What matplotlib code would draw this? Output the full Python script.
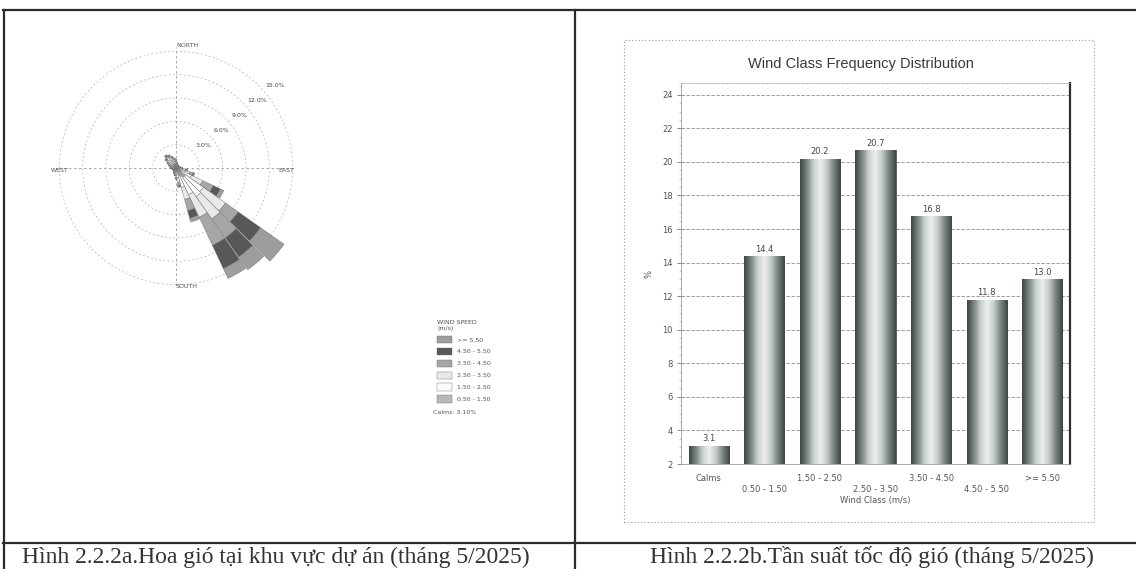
import numpy as np
import matplotlib
matplotlib.use("Agg")
import matplotlib.pyplot as plt
from matplotlib.patches import Rectangle
from matplotlib.lines import Line2D
from matplotlib.colors import LinearSegmentedColormap

# ---------------- data ----------------
# Wind class frequency distribution (%)
wind_classes = ["Calms", "0.50 - 1.50", "1.50 - 2.50", "2.50 - 3.50",
                "3.50 - 4.50", "4.50 - 5.50", ">= 5.50"]
class_freq = [3.1, 14.4, 20.2, 20.7, 16.8, 11.8, 13.0]
y_ticks = [2, 4, 6, 8, 10, 12, 14, 16, 18, 20, 22, 24]

# Wind rose: direction (deg, blowing from) and frequency (%) per speed class
rose_dirs = [0, 10, 20, 30, 40, 50, 60, 70, 80, 90, 100, 110, 120, 130, 140, 150, 160, 170,
             180, 190, 200, 210, 220, 230, 240, 250, 260, 270, 280, 290, 300, 310, 320, 330, 340, 350]
rose_c1 = [0.30, 0.25, 0.20, 0.18, 0.18, 0.17, 0.18, 0.20, 0.25, 0.30, 0.40, 0.55, 0.80, 1.50, 1.50, 1.20, 1.00, 0.60,
           0.45, 0.35, 0.30, 0.25, 0.22, 0.20, 0.20, 0.22, 0.25, 0.28, 0.30, 0.35, 0.42, 0.50, 0.55, 0.50, 0.45, 0.38]
rose_c2 = [0.35, 0.25, 0.20, 0.15, 0.14, 0.12, 0.13, 0.15, 0.20, 0.28, 0.45, 0.70, 1.40, 2.80, 3.00, 2.60, 1.60, 0.70,
           0.45, 0.30, 0.25, 0.20, 0.18, 0.15, 0.15, 0.16, 0.18, 0.22, 0.25, 0.32, 0.40, 0.55, 0.65, 0.60, 0.50, 0.42]
rose_c3 = [0.25, 0.15, 0.12, 0.10, 0.08, 0.07, 0.07, 0.08, 0.12, 0.18, 0.35, 0.60, 1.60, 3.50, 3.50, 3.20, 1.60, 0.60,
           0.30, 0.20, 0.15, 0.10, 0.10, 0.08, 0.08, 0.09, 0.10, 0.12, 0.15, 0.20, 0.28, 0.40, 0.50, 0.45, 0.35, 0.30]
rose_c4 = [0.10, 0.08, 0.05, 0.05, 0.04, 0.03, 0.03, 0.04, 0.05, 0.08, 0.20, 0.40, 1.50, 2.00, 3.00, 4.00, 1.50, 0.35,
           0.15, 0.08, 0.05, 0.04, 0.03, 0.03, 0.03, 0.03, 0.04, 0.05, 0.06, 0.08, 0.12, 0.20, 0.25, 0.22, 0.15, 0.12]
rose_c5 = [0.05, 0.03, 0.02, 0.02, 0.01, 0.01, 0.01, 0.01, 0.02, 0.03, 0.08, 0.15, 1.00, 3.50, 3.00, 3.30, 1.00, 0.15,
           0.05, 0.03, 0.02, 0.01, 0.01, 0.01, 0.00, 0.01, 0.01, 0.02, 0.02, 0.03, 0.05, 0.08, 0.10, 0.08, 0.06, 0.05]
rose_c6 = [0.03, 0.02, 0.01, 0.00, 0.00, 0.00, 0.00, 0.00, 0.01, 0.01, 0.05, 0.10, 0.50, 3.70, 2.00, 1.40, 0.50, 0.10,
           0.02, 0.01, 0.00, 0.00, 0.00, 0.00, 0.00, 0.00, 0.00, 0.01, 0.01, 0.01, 0.02, 0.04, 0.05, 0.04, 0.03, 0.02]
rose_labels = ["0.50 - 1.50", "1.50 - 2.50", "2.50 - 3.50", "3.50 - 4.50", "4.50 - 5.50", ">= 5.50"]
rose_colors = ["#b9b9b9", "#fbfbfb", "#e9e9e9", "#a6a6a6", "#585858", "#9d9d9d"]
ring_values = [3, 6, 9, 12, 15]
ring_labels = ["3.0%", "6.0%", "9.0%", "12.0%", "15.0%"]
calms_text = "Calms: 3.10%"

caption_a = "Hình 2.2.2a.Hoa gió tại khu vực dự án (tháng 5/2025)"
caption_b = "Hình 2.2.2b.Tần suất tốc độ gió (tháng 5/2025)"

# ---------------- figure ----------------
W, H = 1136, 569
fig = plt.figure(figsize=(W / 100, H / 100), dpi=100)
fig.patch.set_facecolor("white")


def fx(px):
    return px / W


def fy(py):
    return 1 - py / H


txt = "#555555"

# ---- table frame ----
frame_kw = dict(transform=fig.transFigure, color="#2b2b2b", lw=1.6)
fig.add_artist(Line2D([fx(3), fx(1136)], [fy(10), fy(10)], **frame_kw))
fig.add_artist(Line2D([fx(4), fx(4)], [fy(10), fy(569)], **frame_kw))
fig.add_artist(Line2D([fx(575), fx(575)], [fy(10), fy(569)], **frame_kw))
fig.add_artist(Line2D([fx(3), fx(1136)], [fy(543), fy(543)], **frame_kw))

fig.text(fx(276), fy(557), caption_a, ha="center", va="center",
         family="Liberation Serif", fontsize=17, color="#333333")
fig.text(fx(872), fy(557), caption_b, ha="center", va="center",
         family="Liberation Serif", fontsize=17, color="#333333")

# ---- wind rose ----
axr = fig.add_axes([fx(36), fy(308), 280 / W, 280 / H], projection="polar")
axr.set_theta_zero_location("N")
axr.set_theta_direction(-1)
axr.set_ylim(0, 18)
axr.set_facecolor("none")
axr.spines["polar"].set_visible(False)
axr.set_xticks([])
axr.set_yticks(ring_values)
axr.set_yticklabels([])
axr.yaxis.grid(True, color="#b5b5b5", lw=0.6, ls=(0, (2, 3)))
axr.xaxis.grid(False)

theta = np.deg2rad(rose_dirs)
width = np.deg2rad(9.6)
series = [rose_c1, rose_c2, rose_c3, rose_c4, rose_c5, rose_c6]
bottom = np.zeros(len(rose_dirs))
handles = []
for vals, col, lab in zip(series, rose_colors, rose_labels):
    b = axr.bar(theta, vals, width=width, bottom=bottom, color=col,
                edgecolor="#707070", linewidth=0.3, label=lab, zorder=3)
    handles.append(b)
    bottom = bottom + np.array(vals)

# crosshair
cross_kw = dict(color="#9a9a9a", lw=0.6, ls=(0, (3, 3)), zorder=1)
axr.plot([0, 0], [0, 15.6], **cross_kw)
axr.plot([np.pi, np.pi], [0, 15.4], **cross_kw)
axr.plot([np.pi / 2, np.pi / 2], [0, 15.4], **cross_kw)
axr.plot([3 * np.pi / 2, 3 * np.pi / 2], [0, 15.4], **cross_kw)

for rv, rl in zip(ring_values, ring_labels):
    axr.text(np.deg2rad(50), rv + 1.6, rl, fontsize=4.5, color="#444444",
             ha="center", va="center", zorder=5)

axr.text(0, 15.8, "NORTH", fontsize=4.5, color=txt, ha="left", va="center")
axr.text(np.pi, 15.3, "SOUTH", fontsize=4.5, color=txt, ha="left", va="center")
axr.text(3 * np.pi / 2, 15.0, "WEST", fontsize=4.5, color=txt, ha="center", va="top")
axr.text(np.pi / 2, 14.2, "EAST", fontsize=4.5, color=txt, ha="center", va="top")

leg = fig.legend(handles=handles[::-1], labels=rose_labels[::-1],
                 loc="upper left", bbox_to_anchor=(fx(433), fy(316)),
                 frameon=False, fontsize=4.5, title="WIND SPEED\n(m/s)",
                 title_fontsize=4.5, handlelength=2.3, handleheight=1.4,
                 labelspacing=0.75, borderpad=0.2, handletextpad=0.8,
                 alignment="left")
for t in leg.get_texts():
    t.set_color(txt)
leg.get_title().set_color(txt)
fig.text(fx(433), fy(412), calms_text, fontsize=4.5, color=txt, ha="left", va="center")

# ---- bar chart ----
fig.add_artist(Rectangle((fx(624), fy(522)), (1094 - 624) / W, (522 - 40) / H,
                         transform=fig.transFigure, fill=False, ls=(0, (1, 2)),
                         ec="#9a9a9a", lw=0.8))

axb = fig.add_axes([fx(681), fy(464), 389 / W, 381 / H])
y_low, y_high = 2, 24.7
x = np.arange(len(wind_classes))
bars = axb.bar(x, class_freq, width=0.72, color="#9aa39d", edgecolor="#4a4f4b",
               linewidth=0.6, zorder=3)

cmap = LinearSegmentedColormap.from_list(
    "cyl", ["#3f4641", "#7d8680", "#c9d0cb", "#eef1ee", "#c2c9c4", "#7a837d", "#3f4641"])
grad = np.linspace(0, 1, 64).reshape(1, -1)
for b in bars:
    x0, y0 = b.get_x(), max(b.get_y(), y_low)
    w, top = b.get_width(), b.get_y() + b.get_height()
    im = axb.imshow(grad, cmap=cmap, aspect="auto", extent=(x0, x0 + w, y0, top),
                    zorder=3.5, interpolation="bicubic")
    im.set_clip_path(b)

axb.bar_label(bars, labels=[f"{v:.1f}" for v in class_freq], padding=1.5,
              fontsize=6, color="#444444", zorder=5)

axb.set_xlim(-0.5, len(wind_classes) - 0.5)
axb.set_ylim(y_low, y_high)
axb.set_yticks(y_ticks)
axb.set_yticks(np.arange(y_low, y_high, 0.5), minor=True)
axb.tick_params(axis="y", labelsize=6, labelcolor=txt, color="#777777",
                length=3, width=0.6, pad=3)
axb.tick_params(axis="y", which="minor", length=1.5, width=0.4, color="#999999")
xt = [lab if i % 2 == 0 else "\n" + lab for i, lab in enumerate(wind_classes)]
axb.set_xticks(x)
axb.set_xticklabels(xt, fontsize=6, color=txt, linespacing=1.35)
axb.tick_params(axis="x", length=0, pad=7)
axb.set_xlabel("Wind Class (m/s)", fontsize=6, color=txt, labelpad=1)
axb.set_ylabel("%", fontsize=6, color=txt, labelpad=6)
axb.set_axisbelow(True)
axb.yaxis.grid(True, color="#8a8a8a", lw=0.6, ls=(0, (4, 2)))
for s in ["left", "bottom", "top"]:
    axb.spines[s].set_color("#9a9a9a")
    axb.spines[s].set_linewidth(0.6)
axb.spines["top"].set_linestyle((0, (1, 2)))
axb.spines["right"].set_color("#2e2e2e")
axb.spines["right"].set_linewidth(1.6)

fig.text(fx(861), fy(64), "Wind Class Frequency Distribution", ha="center", va="center",
         family="Liberation Sans", fontsize=10.5, color="#3a3a3a")

fig.savefig("out.png", dpi=100, facecolor="white")
